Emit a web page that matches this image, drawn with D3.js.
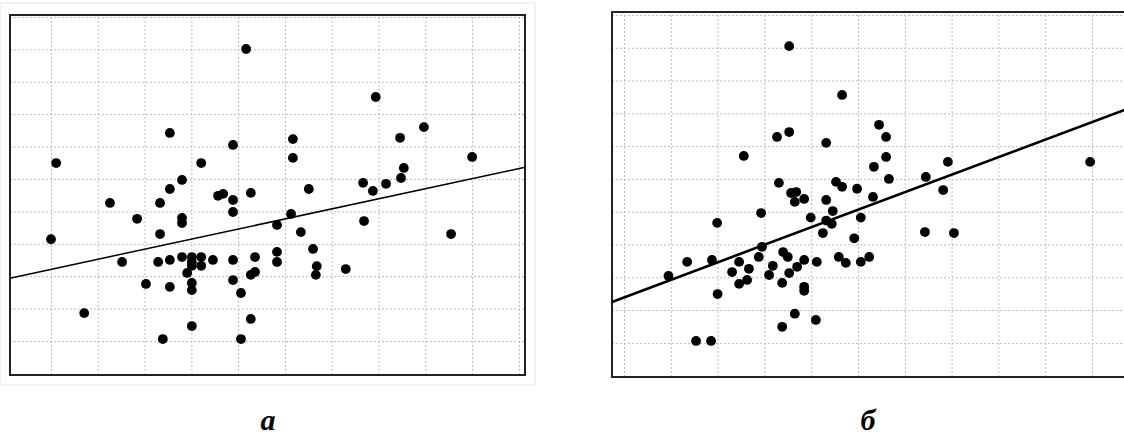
<!DOCTYPE html>
<html>
<head>
<meta charset="utf-8">
<script src="https://cdn.jsdelivr.net/npm/d3@7"></script>
<style>
  html, body { margin: 0; padding: 0; background: #fff; }
  svg { display: block; }
  .grid line { stroke: #bdbdbd; stroke-dasharray: 2,2; }
  .grid path { display: none; }
  .grid text { display: none; }
  .label { font-family: "Liberation Serif", "DejaVu Serif", serif; font-weight: bold; font-style: italic; font-size: 30px; }
</style>
</head>
<body>
<svg id="chart" width="1124" height="439"></svg>
<script>
// панель а
const leftX = [1.11, 1.00, 1.71, 2.26, 2.52, 2.84, 3.03, 3.29, 3.33, 3.33, 3.39, 3.54, 3.54, 3.54, 3.54,
  3.80, 3.80, 3.80, 3.80, 3.91, 4.01, 4.01, 4.01, 4.01, 4.01, 4.01, 4.21, 4.21, 4.21, 4.46, 4.57, 4.68,
  4.89, 4.89, 4.89, 4.89, 4.89, 5.06, 5.06, 5.17, 5.27, 5.27, 5.36, 5.27, 5.36, 5.83, 5.83, 5.83, 6.13,
  6.17, 6.17, 6.34, 6.51, 6.60, 6.66, 6.68, 7.30, 7.67, 7.69, 7.88, 7.94, 8.16, 8.46, 8.48, 8.54, 8.97,
  9.55, 10.00];
const leftY = [6.49, 4.14, 1.86, 5.26, 3.44, 4.77, 2.76, 3.44, 5.26, 4.30, 1.06, 7.42, 5.69, 3.50, 2.67,
  5.97, 4.80, 4.64, 3.59, 3.10, 3.59, 3.44, 3.32, 2.79, 2.57, 1.46, 6.49, 3.59, 3.32, 3.50, 5.48, 5.54,
  7.05, 5.35, 4.98, 3.50, 2.88, 2.48, 1.06, 10.01, 5.57, 3.04, 3.13, 1.68, 3.59, 4.58, 3.75, 3.44, 4.92,
  7.23, 6.65, 4.36, 5.69, 3.84, 3.04, 3.31, 3.22, 5.88, 4.70, 5.63, 8.53, 5.85, 7.27, 6.03, 6.34, 7.60,
  4.30, 6.68];
const leftFit = [2.90, 0.311]; // a + b*x

// панель б
const rightX = [4.53, 5.66, 4.53, 4.27, 5.32, 3.56, 4.31, 5.53, 5.66, 5.98, 4.57, 4.68, 4.85, 5.32, 6.45,
  6.60, 6.60, 6.34, 6.66, 7.92, 7.45, 7.82, 10.96, 6.32, 4.65, 5.46, 3.93, 4.99, 5.32, 5.44, 6.06, 2.99,
  5.25, 5.92, 3.95, 4.40, 4.50, 3.88, 4.85, 5.12, 5.59, 5.74, 6.06, 6.24, 2.35, 2.88, 3.46, 3.67, 4.18,
  4.70, 3.31, 4.10, 4.53, 1.95, 3.63, 3.46, 4.38, 4.85, 4.85, 3.00, 4.65, 5.10, 4.38, 2.54, 2.86, 7.43,
  8.05];
const rightY = [10.05, 8.56, 7.43, 7.28, 7.10, 6.70, 5.88, 5.91, 5.76, 5.70, 5.57, 5.60, 5.39, 5.36, 7.65,
  7.28, 6.67, 6.37, 6.00, 6.52, 6.06, 5.66, 6.52, 5.45, 5.30, 5.02, 4.96, 4.82, 4.73, 4.63, 4.82, 4.66,
  4.35, 4.19, 3.93, 3.77, 3.62, 3.62, 3.53, 3.47, 3.62, 3.44, 3.47, 3.62, 3.47, 3.53, 3.47, 3.26, 3.35,
  3.32, 3.16, 3.07, 3.13, 3.04, 2.92, 2.80, 2.83, 2.71, 2.59, 2.49, 1.89, 1.70, 1.49, 1.06, 1.06, 4.38,
  4.35];
const rightFit = [1.85, 0.535];

const gridTicks = [1, 2, 3, 4, 5, 6, 7, 8, 9, 10, 11];
const panelLabels = ["а", "б"];

const svg = d3.select("#chart");

function drawPanel(cfg) {
  const x = d3.scaleLinear().domain(cfg.xDomain).range([cfg.left, cfg.right]);
  const y = d3.scaleLinear().domain(cfg.yDomain).range([cfg.bottom, cfg.top]);
  const g = svg.append("g");

  if (cfg.frame) {
    g.append("rect")
      .attr("x", cfg.left - 10).attr("y", cfg.top - 12)
      .attr("width", cfg.right - cfg.left + 20).attr("height", cfg.bottom - cfg.top + 22)
      .attr("fill", "none").attr("stroke", "#f2f2f2").attr("stroke-width", 2);
  }

  // сетка
  g.append("g").attr("class", "grid")
    .attr("transform", `translate(0,${cfg.bottom})`)
    .call(d3.axisBottom(x).tickValues(gridTicks).tickSize(-(cfg.bottom - cfg.top)).tickFormat(""));
  g.append("g").attr("class", "grid")
    .attr("transform", `translate(${cfg.left},0)`)
    .call(d3.axisLeft(y).tickValues(gridTicks).tickSize(-(cfg.right - cfg.left)).tickFormat(""));

  // рамка
  g.append("rect")
    .attr("x", cfg.left).attr("y", cfg.top)
    .attr("width", cfg.right - cfg.left).attr("height", cfg.bottom - cfg.top)
    .attr("fill", "none").attr("stroke", "#222").attr("stroke-width", 2);

  // линия регрессии
  const x0 = cfg.xDomain[0], x1 = cfg.xDomain[1];
  g.append("line")
    .attr("x1", x(x0)).attr("y1", y(cfg.fit[0] + cfg.fit[1] * x0))
    .attr("x2", x(x1)).attr("y2", y(cfg.fit[0] + cfg.fit[1] * x1))
    .attr("stroke", "#000").attr("stroke-width", cfg.lineWidth);

  // точки
  g.selectAll("circle.pt")
    .data(d3.zip(cfg.xs, cfg.ys))
    .enter().append("circle")
    .attr("class", "pt")
    .attr("cx", d => x(d[0]))
    .attr("cy", d => y(d[1]))
    .attr("r", 4.9)
    .attr("fill", "#000");

  svg.append("text")
    .attr("class", "label")
    .attr("x", cfg.labelX).attr("y", 430)
    .attr("text-anchor", "middle")
    .text(cfg.label);
}

drawPanel({
  left: 10, right: 525, top: 15, bottom: 375,
  xDomain: [0.124, 11.13], yDomain: [-0.05, 11.06],
  xs: leftX, ys: leftY, fit: leftFit, lineWidth: 1.5,
  label: panelLabels[0], labelX: 268, frame: true
});

drawPanel({
  left: 612, right: 1136, top: 12, bottom: 377,
  xDomain: [0.744, 11.94], yDomain: [-0.04, 11.09],
  xs: rightX, ys: rightY, fit: rightFit, lineWidth: 2.6,
  label: panelLabels[1], labelX: 868, frame: false
});
</script>
</body>
</html>
